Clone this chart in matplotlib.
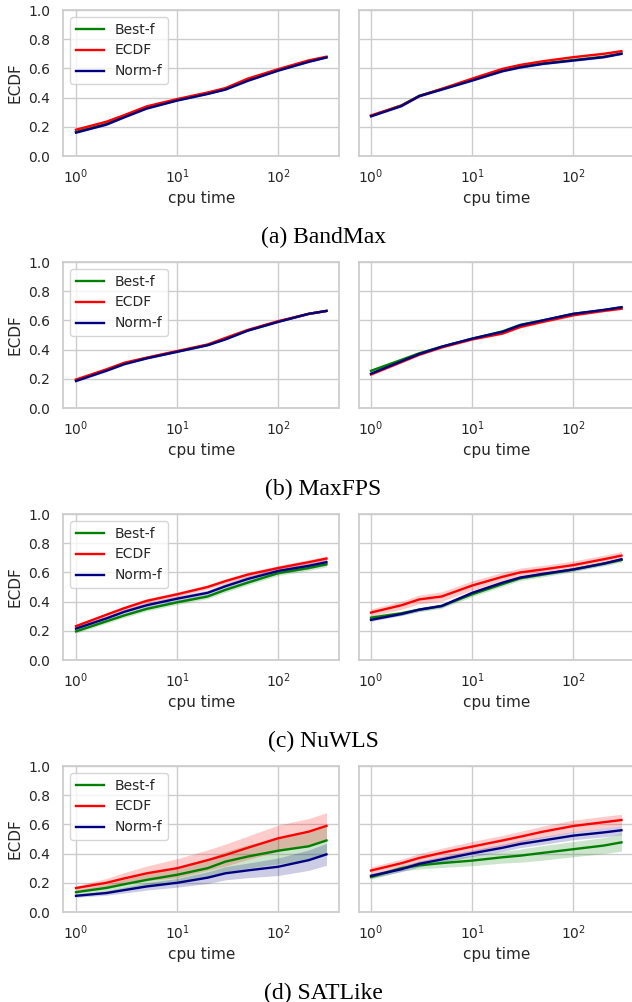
import numpy as np
import matplotlib
matplotlib.use("Agg")
import matplotlib.pyplot as plt

# cpu time grid (seconds)
cpu = [1, 2, 3, 5, 10, 20, 30, 50, 100, 200, 300]
yticks = [0.0, 0.2, 0.4, 0.6, 0.8, 1.0]
methods = ["Best-f", "ECDF", "Norm-f"]
captions = ["(a) BandMax", "(b) MaxFPS", "(c) NuWLS", "(d) SATLike"]

### (a) BandMax ###
bandmax_l_best = [0.165, 0.22, 0.27, 0.33, 0.383, 0.428, 0.458, 0.52, 0.588, 0.648, 0.677]
bandmax_l_ecdf = [0.18, 0.235, 0.28, 0.34, 0.39, 0.435, 0.465, 0.53, 0.595, 0.655, 0.68]
bandmax_l_norm = [0.16, 0.215, 0.265, 0.325, 0.38, 0.425, 0.455, 0.515, 0.585, 0.645, 0.675]
bandmax_l_sd = [0.006, 0.006, 0.006, 0.006, 0.006, 0.006, 0.006, 0.006, 0.006, 0.006, 0.006]
bandmax_r_best = [0.275, 0.347, 0.413, 0.458, 0.52, 0.584, 0.61, 0.634, 0.657, 0.68, 0.702]
bandmax_r_ecdf = [0.278, 0.345, 0.41, 0.46, 0.53, 0.597, 0.624, 0.649, 0.677, 0.70, 0.718]
bandmax_r_norm = [0.272, 0.342, 0.41, 0.455, 0.517, 0.581, 0.607, 0.631, 0.654, 0.677, 0.70]
bandmax_r_sd = [0.007, 0.007, 0.007, 0.007, 0.007, 0.007, 0.007, 0.007, 0.007, 0.007, 0.007]

### (b) MaxFPS ###
maxfps_l_best = [0.19, 0.26, 0.305, 0.342, 0.387, 0.432, 0.473, 0.532, 0.592, 0.645, 0.665]
maxfps_l_ecdf = [0.195, 0.265, 0.31, 0.345, 0.39, 0.435, 0.48, 0.535, 0.595, 0.645, 0.665]
maxfps_l_norm = [0.185, 0.255, 0.30, 0.34, 0.385, 0.43, 0.47, 0.53, 0.59, 0.645, 0.665]
maxfps_l_sd = [0.006, 0.006, 0.006, 0.006, 0.006, 0.006, 0.006, 0.006, 0.006, 0.006, 0.006]
maxfps_r_best = [0.255, 0.33, 0.375, 0.42, 0.475, 0.525, 0.57, 0.60, 0.645, 0.67, 0.69]
maxfps_r_ecdf = [0.23, 0.315, 0.365, 0.415, 0.47, 0.51, 0.555, 0.59, 0.635, 0.665, 0.68]
maxfps_r_norm = [0.235, 0.32, 0.37, 0.42, 0.475, 0.522, 0.567, 0.60, 0.645, 0.672, 0.69]
maxfps_r_sd = [0.008, 0.008, 0.007, 0.007, 0.007, 0.007, 0.007, 0.007, 0.007, 0.007, 0.007]

### (c) NuWLS ###
nuwls_l_best = [0.196, 0.265, 0.305, 0.35, 0.395, 0.435, 0.48, 0.53, 0.595, 0.63, 0.655]
nuwls_l_ecdf = [0.232, 0.31, 0.355, 0.405, 0.45, 0.50, 0.54, 0.585, 0.63, 0.67, 0.695]
nuwls_l_norm = [0.215, 0.285, 0.33, 0.375, 0.42, 0.46, 0.505, 0.555, 0.61, 0.645, 0.67]
nuwls_l_best_sd = [0.012, 0.013, 0.014, 0.015, 0.015, 0.015, 0.016, 0.016, 0.016, 0.017, 0.017]
nuwls_l_ecdf_sd = [0.012, 0.013, 0.014, 0.015, 0.015, 0.015, 0.016, 0.016, 0.016, 0.017, 0.017]
nuwls_l_norm_sd = [0.015, 0.016, 0.017, 0.018, 0.018, 0.018, 0.019, 0.02, 0.02, 0.02, 0.02]
nuwls_r_best = [0.29, 0.32, 0.345, 0.37, 0.45, 0.52, 0.56, 0.585, 0.62, 0.66, 0.685]
nuwls_r_ecdf = [0.325, 0.375, 0.415, 0.435, 0.51, 0.57, 0.60, 0.62, 0.65, 0.69, 0.715]
nuwls_r_norm = [0.275, 0.315, 0.345, 0.37, 0.46, 0.53, 0.565, 0.59, 0.62, 0.66, 0.69]
nuwls_r_best_sd = [0.015, 0.015, 0.015, 0.016, 0.016, 0.016, 0.016, 0.016, 0.015, 0.015, 0.015]
nuwls_r_ecdf_sd = [0.025, 0.028, 0.03, 0.032, 0.032, 0.03, 0.03, 0.028, 0.028, 0.028, 0.028]
nuwls_r_norm_sd = [0.01, 0.01, 0.01, 0.01, 0.01, 0.01, 0.01, 0.01, 0.01, 0.01, 0.01]

### (d) SATLike ###
satlike_l_best = [0.136, 0.165, 0.19, 0.22, 0.255, 0.30, 0.345, 0.38, 0.42, 0.45, 0.49]
satlike_l_ecdf = [0.164, 0.20, 0.23, 0.265, 0.30, 0.355, 0.39, 0.44, 0.505, 0.55, 0.59]
satlike_l_norm = [0.111, 0.13, 0.15, 0.175, 0.20, 0.235, 0.265, 0.285, 0.31, 0.355, 0.395]
satlike_l_best_sd = [0.015, 0.025, 0.035, 0.045, 0.055, 0.065, 0.07, 0.08, 0.09, 0.095, 0.1]
satlike_l_ecdf_sd = [0.015, 0.03, 0.04, 0.05, 0.065, 0.07, 0.075, 0.08, 0.09, 0.09, 0.09]
satlike_l_norm_sd = [0.01, 0.015, 0.02, 0.025, 0.03, 0.04, 0.045, 0.05, 0.06, 0.07, 0.075]
satlike_r_best = [0.239, 0.30, 0.32, 0.335, 0.352, 0.375, 0.386, 0.405, 0.43, 0.455, 0.477]
satlike_r_ecdf = [0.284, 0.334, 0.37, 0.405, 0.448, 0.49, 0.516, 0.55, 0.589, 0.615, 0.63]
satlike_r_norm = [0.248, 0.293, 0.33, 0.36, 0.402, 0.44, 0.466, 0.49, 0.523, 0.545, 0.56]
satlike_r_best_sd = [0.015, 0.02, 0.025, 0.03, 0.035, 0.04, 0.045, 0.05, 0.052, 0.055, 0.06]
satlike_r_ecdf_sd = [0.025, 0.028, 0.03, 0.032, 0.035, 0.035, 0.037, 0.038, 0.04, 0.04, 0.04]
satlike_r_norm_sd = [0.015, 0.017, 0.02, 0.02, 0.022, 0.025, 0.025, 0.027, 0.028, 0.03, 0.03]

# rows of (left, right) panels, each panel = list of (mean, spread) per method
rows = [
    ([(bandmax_l_best, bandmax_l_sd), (bandmax_l_ecdf, bandmax_l_sd), (bandmax_l_norm, bandmax_l_sd)],
     [(bandmax_r_best, bandmax_r_sd), (bandmax_r_ecdf, bandmax_r_sd), (bandmax_r_norm, bandmax_r_sd)]),
    ([(maxfps_l_best, maxfps_l_sd), (maxfps_l_ecdf, maxfps_l_sd), (maxfps_l_norm, maxfps_l_sd)],
     [(maxfps_r_best, maxfps_r_sd), (maxfps_r_ecdf, maxfps_r_sd), (maxfps_r_norm, maxfps_r_sd)]),
    ([(nuwls_l_best, nuwls_l_best_sd), (nuwls_l_ecdf, nuwls_l_ecdf_sd), (nuwls_l_norm, nuwls_l_norm_sd)],
     [(nuwls_r_best, nuwls_r_best_sd), (nuwls_r_ecdf, nuwls_r_ecdf_sd), (nuwls_r_norm, nuwls_r_norm_sd)]),
    ([(satlike_l_best, satlike_l_best_sd), (satlike_l_ecdf, satlike_l_ecdf_sd), (satlike_l_norm, satlike_l_norm_sd)],
     [(satlike_r_best, satlike_r_best_sd), (satlike_r_ecdf, satlike_r_ecdf_sd), (satlike_r_norm, satlike_r_norm_sd)]),
]
colors = ["green", "red", "navy"]

plt.rcParams.update({
    "font.family": "DejaVu Sans",
    "text.color": ".15",
    "axes.labelcolor": ".15",
    "xtick.color": ".15",
    "ytick.color": ".15",
    "axes.edgecolor": ".8",
    "axes.linewidth": 1.25,
    "grid.color": ".8",
    "grid.linewidth": 1.0,
})

W, H = 632, 1002
fig = plt.figure(figsize=(W / 100, H / 100), dpi=100)

for i, (left, right) in enumerate(rows):
    bottom = 1 - (156 + 252 * i) / H
    height = 146 / H
    for j, panel in enumerate([left, right]):
        x0 = (63.5 if j == 0 else 358.5) / W
        ax = fig.add_axes([x0, bottom, 275.5 / W, height])
        for (mean, sd), name, c in zip(panel, methods, colors):
            m = np.array(mean)
            s = np.array(sd)
            ax.fill_between(cpu, m - s, m + s, color=c, alpha=0.2, linewidth=0)
            ax.plot(cpu, m, color=c, lw=1.7, label=name)
        ax.set_xscale("log")
        ax.set_ylim(0, 1)
        ax.set_yticks(yticks)
        ax.grid(True, which="major")
        ax.set_axisbelow(True)
        ax.tick_params(axis="y", length=0, pad=9.5, labelsize=10)
        ax.tick_params(axis="x", length=0, pad=8, labelsize=10)
        ax.tick_params(which="minor", length=0)
        ax.set_xlabel("cpu time", fontsize=11)
        if j == 0:
            ax.set_ylabel("ECDF", fontsize=11)
            ax.set_yticklabels([f"{t:.1f}" for t in yticks])
            ax.legend(loc="upper left", fontsize=10, edgecolor=".8")
        else:
            ax.set_yticklabels([])
    fig.text(323.5 / W, 1 - (237 + 252 * i) / H, captions[i], ha="center", va="center",
             family="Liberation Serif", fontsize=17, color="black")

plt.savefig("out.png", dpi=100)
